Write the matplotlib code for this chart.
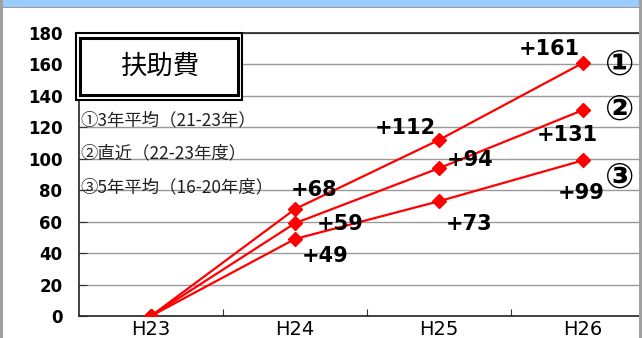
import matplotlib
matplotlib.use("Agg")
import matplotlib.pyplot as plt
from matplotlib.patches import Rectangle

plt.rcParams['font.family'] = ['Noto Sans CJK JP', 'DejaVu Sans']

# 年度と各推計の伸び
years = ["H23", "H24", "H25", "H26"]
avg3 = [0, 68, 112, 161]      # ①3年平均
recent = [0, 59, 94, 131]     # ②直近
avg5 = [0, 49, 73, 99]        # ③5年平均
legend_lines = ["①3年平均（21-23年）", "②直近（22-23年度）", "③5年平均（16-20年度）"]
yticks = list(range(0, 181, 20))

W, H = 642, 338
fig = plt.figure(figsize=(W / 100, H / 100), dpi=100)

def px(x0, y0, w, h):
    # ピクセル座標(左上原点)から figure 座標へ
    return (x0 / W, 1 - (y0 + h) / H, w / W, h / H)

# 上の青帯と左右の枠
fig.add_artist(Rectangle((0, 1 - 7 / H), 1, 7 / H, transform=fig.transFigure,
                         color="#99ccff", lw=0))
fig.add_artist(Rectangle((0, 1 - 8 / H), 1, 1 / H, transform=fig.transFigure,
                         color="#9a9a9a", lw=0))
fig.add_artist(Rectangle((0, 0), 3 / W, 1, transform=fig.transFigure,
                         color="#a0a0a0", lw=0))
fig.add_artist(Rectangle((1 - 3 / W, 0), 3 / W, 1, transform=fig.transFigure,
                         color="#a0a0a0", lw=0))

ax = fig.add_axes(px(79, 33, 576, 283))
x = range(len(years))
for vals in (avg3, recent, avg5):
    ax.plot(x, vals, color="red", lw=1.6, marker="D", markersize=7,
            markeredgecolor="red", zorder=3)

ax.set_xlim(-0.5, 3.5)
ax.set_ylim(0, 180)
ax.set_yticks(yticks)
ax.set_yticklabels([str(v) for v in yticks], fontsize=12, fontweight="bold",
                   family="DejaVu Sans")
ax.set_xticks([0.5, 1.5, 2.5], minor=False)
ax.set_xticklabels([])
ax.set_xticks(list(x), minor=True)
ax.set_xticklabels(years, minor=True, fontsize=14, family="DejaVu Sans")
ax.tick_params(axis="x", which="major", direction="in", length=5, color="#333333")
ax.tick_params(axis="x", which="minor", length=0, pad=3)
ax.tick_params(axis="y", direction="in", length=6, pad=12, color="#333333")
ax.yaxis.grid(True, color="#999999", lw=1)
ax.set_axisbelow(True)
for s in ("left", "top", "bottom"):
    ax.spines[s].set_color("#222222")
    ax.spines[s].set_linewidth(1.2)
ax.spines["right"].set_visible(False)

# 値ラベル（データ点からのオフセット, px）
labels = [
    (avg3, [None, (19, 19), (-34, 12), (-34, 14)]),
    (recent, [None, (45, -1), (31, 8), (-16, -25)]),
    (avg5, [None, (30, -17), (30, -23), (-2, -33)]),
]
for vals, offs in labels:
    for i, off in enumerate(offs):
        if off is None:
            continue
        ax.annotate(f"+{vals[i]}", (i, vals[i]), xytext=off,
                    textcoords="offset pixels", ha="center", va="center",
                    fontsize=15, fontweight="bold", family="DejaVu Sans",
                    zorder=4)

# 系列番号
for txt, (cx, cy) in zip(["①", "②", "③"], [(620, 65), (620, 110), (620, 178)]):
    fig.text(cx / W, 1 - cy / H, txt, ha="center", va="center", fontsize=25,
             fontweight="bold", family=["DejaVu Sans", "Noto Sans CJK JP"])

# タイトル枠（二重線）
fig.add_artist(Rectangle(px(76, 33, 166, 67)[:2], 166 / W, 67 / H,
                         transform=fig.transFigure, fc="white", ec="black",
                         lw=1.5, zorder=5))
fig.add_artist(Rectangle(px(80, 38, 158, 57)[:2], 158 / W, 57 / H,
                         transform=fig.transFigure, fc="none", ec="black",
                         lw=2.2, zorder=6))
fig.text(160 / W, 1 - 66 / H, "扶助費", ha="center", va="center", fontsize=19,
         zorder=7)

# 凡例テキスト
for txt, cy in zip(legend_lines, [120, 153, 187]):
    fig.text(80 / W, 1 - cy / H, txt, ha="left", va="center", fontsize=12.5,
             color="#222222")

fig.savefig("out.png", dpi=100)
